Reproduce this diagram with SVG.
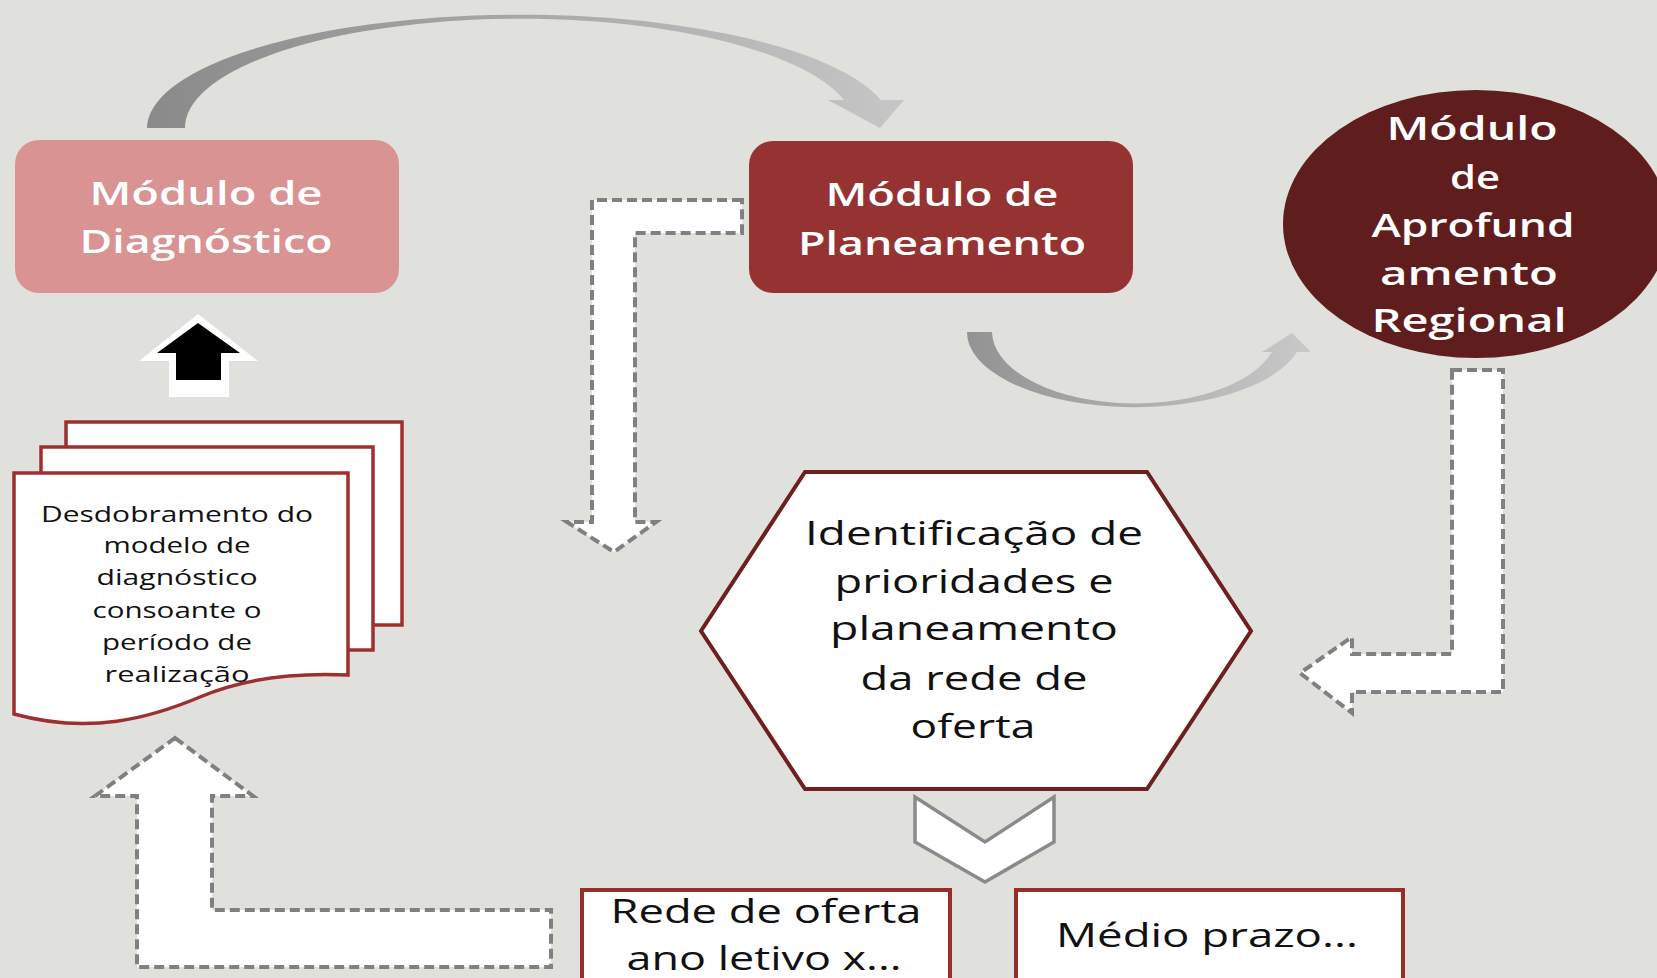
<svg xmlns="http://www.w3.org/2000/svg" width="1657" height="978" viewBox="0 0 1657 978">
  <defs>
    <linearGradient id="gTop" gradientUnits="userSpaceOnUse" x1="147" y1="0" x2="904" y2="0">
      <stop offset="0" stop-color="#8a8a8a"/>
      <stop offset="0.5" stop-color="#a8a8a8"/>
      <stop offset="1" stop-color="#c6c6c6"/>
    </linearGradient>
    <linearGradient id="gBot" gradientUnits="userSpaceOnUse" x1="967" y1="0" x2="1311" y2="0">
      <stop offset="0" stop-color="#939393"/>
      <stop offset="1" stop-color="#c9c9c9"/>
    </linearGradient>
    <style>
      .wt { font-family: "Open Sans", "DejaVu Sans", sans-serif; fill: #ffffff; font-size: 32px; font-weight: 600; text-anchor: middle; }
      .bt { font-family: "Open Sans", "DejaVu Sans", sans-serif; fill: #111111; font-size: 32px; text-anchor: middle; }
      .st { font-family: "Open Sans", "DejaVu Sans", sans-serif; fill: #111111; font-size: 21px; text-anchor: middle; }
      .dash { fill: #ffffff; stroke: #808080; stroke-width: 4; stroke-dasharray: 10 5; stroke-linejoin: miter; }
      .page { fill: #ffffff; stroke: #9e2f2f; stroke-width: 3.5; }
      .obox { fill: #ffffff; stroke: #9b2c2c; stroke-width: 4; }
    </style>
  </defs>

  <rect x="0" y="0" width="1657" height="978" fill="#e0e1dc"/>

  <g id="connectors">
    <path d="M147,128 A373,114 0 0 1 881,100 L904,100 L880,128 L828,100 L844,100 A335,109 0 0 0 185,128 Z" fill="url(#gTop)"/>
    <path d="M967,332 A168,75 0 0 0 1297,352 L1311,352 L1292,333 L1262,352 L1272,352 A143,72 0 0 1 992,332 Z" fill="url(#gBot)"/>
    <polygon class="dash" points="742,200 592,200 592,522 567,522 614,552 656,522 635,522 635,233 742,233"/>
    <polygon class="dash" points="1452,370 1503,370 1503,692 1352,692 1352,713 1300,673 1352,637 1352,654 1452,654"/>
    <polygon class="dash" points="175,738 253,796 212,796 212,910 551,910 551,967 137,967 137,796 95,796"/>
    <polygon points="198,314 258,361 229,361 229,397 169,397 169,361 139,361" fill="#ffffff"/>
    <polygon points="198,323 240,353 221,353 221,380 176,380 176,353 157,353" fill="#000000"/>
    <polygon points="915,797 985,842 1054,797 1054,842 985,882 915,842" fill="#ffffff" stroke="#8a8a8a" stroke-width="3.5"/>
  </g>

  <g id="node-diagnostico">
    <rect x="15" y="140" width="384" height="153" rx="24" ry="24" fill="#d99393"/>
    <text class="wt" x="206" y="205" textLength="233" lengthAdjust="spacingAndGlyphs">Módulo de</text>
    <text class="wt" x="206" y="253" textLength="253" lengthAdjust="spacingAndGlyphs">Diagnóstico</text>
  </g>

  <g id="node-planeamento">
    <rect x="749" y="141" width="384" height="152" rx="24" ry="24" fill="#943331"/>
    <text class="wt" x="942" y="206" textLength="233" lengthAdjust="spacingAndGlyphs">Módulo de</text>
    <text class="wt" x="942" y="255" textLength="288" lengthAdjust="spacingAndGlyphs">Planeamento</text>
  </g>

  <g id="node-aprofundamento">
    <ellipse cx="1476" cy="224" rx="193" ry="134" fill="#5f1d1d"/>
    <text class="wt" x="1472" y="140" textLength="171" lengthAdjust="spacingAndGlyphs">Módulo</text>
    <text class="wt" x="1475" y="189" textLength="50" lengthAdjust="spacingAndGlyphs">de</text>
    <text class="wt" x="1473" y="237" textLength="203" lengthAdjust="spacingAndGlyphs">Aprofund</text>
    <text class="wt" x="1469" y="285" textLength="178" lengthAdjust="spacingAndGlyphs">amento</text>
    <text class="wt" x="1469" y="332" textLength="195" lengthAdjust="spacingAndGlyphs">Regional</text>
  </g>

  <g id="node-documento">
    <rect class="page" x="66" y="422" width="336" height="203"/>
    <rect class="page" x="41" y="447" width="332" height="203"/>
    <path class="page" d="M14,473 H348 V675 C280,672 235,682 200,697 C150,718 90,735 14,714 Z"/>
    <text class="st" x="177" y="522" textLength="272" lengthAdjust="spacingAndGlyphs">Desdobramento do</text>
    <text class="st" x="177" y="553" textLength="147" lengthAdjust="spacingAndGlyphs">modelo de</text>
    <text class="st" x="177" y="585" textLength="161" lengthAdjust="spacingAndGlyphs">diagnóstico</text>
    <text class="st" x="177" y="618" textLength="169" lengthAdjust="spacingAndGlyphs">consoante o</text>
    <text class="st" x="177" y="650" textLength="150" lengthAdjust="spacingAndGlyphs">período de</text>
    <text class="st" x="177" y="682" textLength="145" lengthAdjust="spacingAndGlyphs">realização</text>
  </g>

  <g id="node-identificacao">
    <polygon points="805,472 1147,472 1251,631 1147,789 805,789 701,631" fill="#ffffff" stroke="#6e1f1f" stroke-width="4"/>
    <text class="bt" x="974" y="545" textLength="338" lengthAdjust="spacingAndGlyphs">Identificação de</text>
    <text class="bt" x="974" y="593" textLength="279" lengthAdjust="spacingAndGlyphs">prioridades e</text>
    <text class="bt" x="974" y="640" textLength="288" lengthAdjust="spacingAndGlyphs">planeamento</text>
    <text class="bt" x="974" y="690" textLength="227" lengthAdjust="spacingAndGlyphs">da rede de</text>
    <text class="bt" x="973" y="738" textLength="125" lengthAdjust="spacingAndGlyphs">oferta</text>
  </g>

  <g id="node-rede-oferta">
    <rect class="obox" x="582" y="890" width="368" height="100"/>
    <text class="bt" x="766" y="923" textLength="311" lengthAdjust="spacingAndGlyphs">Rede de oferta</text>
    <text class="bt" x="764" y="970" textLength="275" lengthAdjust="spacingAndGlyphs">ano letivo x...</text>
  </g>

  <g id="node-medio-prazo">
    <rect class="obox" x="1016" y="890" width="387" height="100"/>
    <text class="bt" x="1207" y="947" textLength="302" lengthAdjust="spacingAndGlyphs">Médio prazo...</text>
  </g>
</svg>
